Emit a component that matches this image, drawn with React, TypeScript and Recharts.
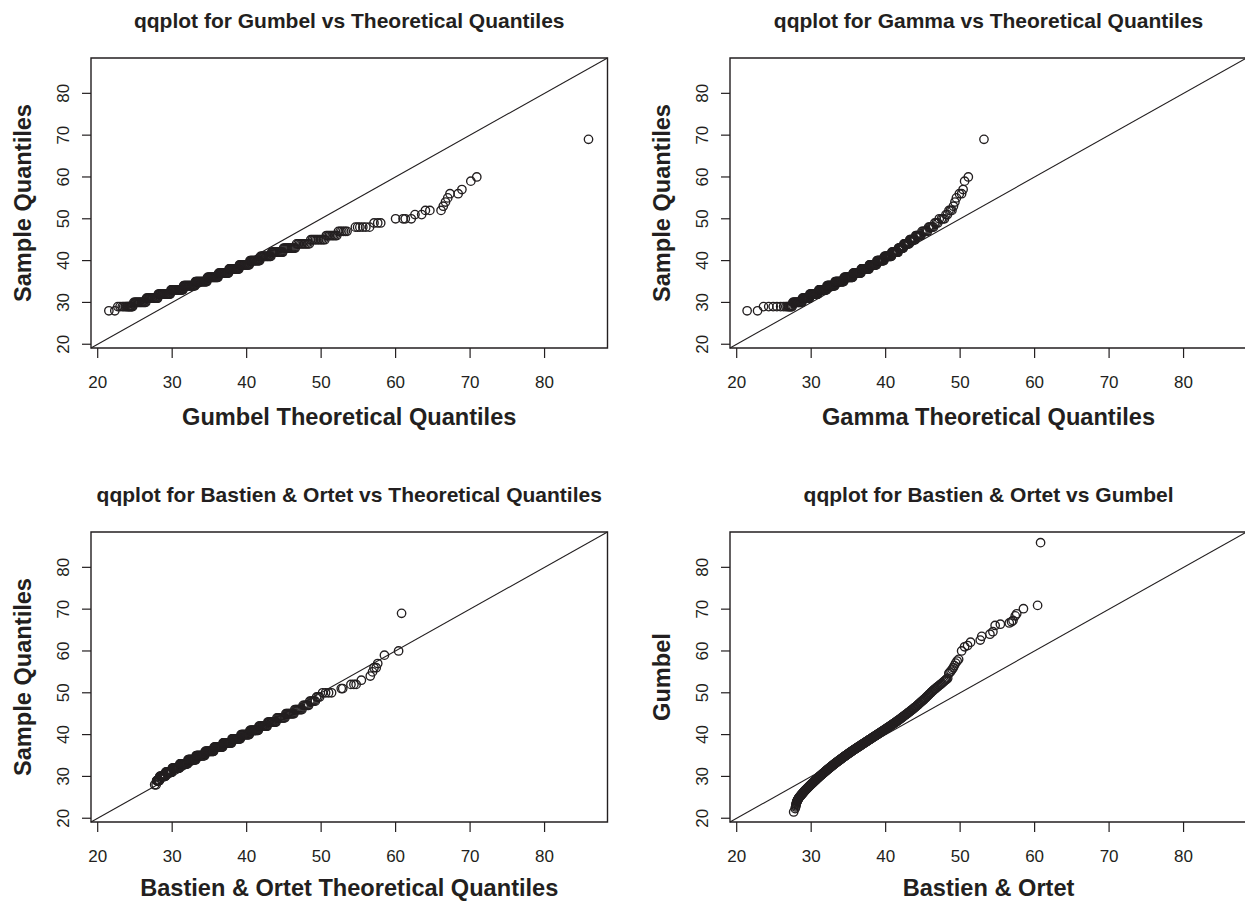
import { ScatterChart, Scatter, XAxis, YAxis, ReferenceLine, ReferenceArea } from "recharts"

// shared axis range and ticks for all four qq panels
const AXIS_MIN = 19.1
const AXIS_MAX = 88.45
const TICKS = [20, 30, 40, 50, 60, 70, 80]

const INK = "#231f20"
const FONT = '"Liberation Sans", Arial, Helvetica, sans-serif'

const BOX_W = 516.5
const BOX_H = 290
const PAD = 60

// sorted sample, stored as value / count pairs
const sampleLevels = [28, 29, 30, 31, 32, 33, 34, 35, 36, 37, 38, 39, 40, 41, 42, 43, 44, 45, 46, 47, 48, 49, 50, 51, 52, 53, 54, 55, 56, 57, 59, 60, 69]
const sampleCounts = [2, 14, 16, 16, 18, 20, 20, 20, 20, 18, 18, 16, 16, 15, 13, 12, 10, 10, 8, 6, 6, 3, 4, 2, 3, 1, 1, 1, 2, 1, 1, 1, 1]

// sorted theoretical quantiles, one row per sample level
const gumbelQ = [
  21.5, 22.3,
  22.7, 23.0, 23.3, 23.5, 23.7, 23.85, 24.0, 24.1, 24.2, 24.3, 24.4, 24.5, 24.6, 24.7,
  24.85, 24.96, 25.07, 25.17, 25.28, 25.38, 25.49, 25.6, 25.7, 25.81, 25.91, 26.02, 26.13, 26.23, 26.34, 26.45,
  26.55, 26.65, 26.75, 26.85, 26.95, 27.05, 27.15, 27.25, 27.35, 27.45, 27.55, 27.65, 27.75, 27.85, 27.95, 28.05,
  28.15, 28.24, 28.34, 28.43, 28.52, 28.62, 28.71, 28.81, 28.9, 28.99, 29.09, 29.18, 29.28, 29.37, 29.47, 29.56, 29.65, 29.75,
  29.84, 29.93, 30.01, 30.1, 30.18, 30.27, 30.35, 30.44, 30.52, 30.61, 30.69, 30.78, 30.86, 30.95, 31.03, 31.12, 31.2, 31.29, 31.37, 31.46,
  31.54, 31.62, 31.7, 31.78, 31.86, 31.94, 32.02, 32.1, 32.18, 32.26, 32.34, 32.42, 32.5, 32.58, 32.66, 32.74, 32.82, 32.9, 32.98, 33.06,
  33.14, 33.22, 33.3, 33.38, 33.46, 33.54, 33.62, 33.7, 33.78, 33.86, 33.94, 34.02, 34.1, 34.18, 34.26, 34.34, 34.42, 34.5, 34.58, 34.66,
  34.74, 34.81, 34.89, 34.96, 35.04, 35.11, 35.19, 35.26, 35.34, 35.41, 35.49, 35.56, 35.64, 35.71, 35.79, 35.86, 35.94, 36.01, 36.09, 36.16,
  36.24, 36.32, 36.4, 36.47, 36.55, 36.63, 36.71, 36.78, 36.86, 36.94, 37.02, 37.09, 37.17, 37.25, 37.33, 37.41, 37.48, 37.56,
  37.64, 37.72, 37.8, 37.87, 37.95, 38.03, 38.11, 38.18, 38.26, 38.34, 38.42, 38.49, 38.57, 38.65, 38.73, 38.81, 38.88, 38.96,
  39.04, 39.13, 39.22, 39.31, 39.39, 39.48, 39.57, 39.66, 39.74, 39.83, 39.92, 40.01, 40.09, 40.18, 40.27, 40.36,
  40.44, 40.53, 40.62, 40.71, 40.79, 40.88, 40.97, 41.06, 41.14, 41.23, 41.32, 41.41, 41.49, 41.58, 41.67, 41.76,
  41.85, 41.95, 42.05, 42.15, 42.25, 42.35, 42.45, 42.55, 42.65, 42.75, 42.85, 42.95, 43.05, 43.15, 43.25,
  43.36, 43.48, 43.61, 43.73, 43.85, 43.98, 44.1, 44.22, 44.35, 44.47, 44.59, 44.72, 44.84,
  44.97, 45.11, 45.25, 45.4, 45.54, 45.68, 45.82, 45.96, 46.1, 46.25, 46.39, 46.53,
  46.7, 46.89, 47.08, 47.27, 47.46, 47.65, 47.84, 48.03, 48.22, 48.41,
  48.61, 48.82, 49.03, 49.24, 49.45, 49.66, 49.87, 50.08, 50.29, 50.5,
  50.7, 50.9, 51.1, 51.3, 51.5, 51.7, 51.9, 52.1,
  52.32, 52.55, 52.78, 53.02, 53.25, 53.48,
  54.6, 54.9, 55.2, 55.6, 56.0, 56.5,
  57.1, 57.6, 58.0,
  60.0, 61.0, 61.3, 62.1,
  62.6, 63.5,
  64.0, 64.6, 66.1,
  66.4, 66.7, 67.0,
  67.3, 68.4,
  68.9, 70.1, 70.9, 85.9,
]

const gammaQ = [
  21.4, 22.8,
  23.6, 24.3, 24.9, 25.4, 25.9, 26.3, 26.6, 26.8, 26.95, 27.05, 27.15, 27.25, 27.35, 27.45,
  27.54, 27.62, 27.7, 27.78, 27.87, 27.95, 28.03, 28.11, 28.19, 28.27, 28.35, 28.43, 28.52, 28.6, 28.68, 28.76,
  28.83, 28.89, 28.96, 29.02, 29.08, 29.14, 29.21, 29.27, 29.33, 29.39, 29.46, 29.52, 29.58, 29.64, 29.71, 29.77,
  29.83, 29.9, 29.96, 30.02, 30.09, 30.15, 30.22, 30.28, 30.34, 30.41, 30.47, 30.53, 30.6, 30.66, 30.73, 30.79, 30.85, 30.92,
  31.03, 31.08, 31.14, 31.19, 31.25, 31.3, 31.36, 31.41, 31.47, 31.52, 31.58, 31.63, 31.69, 31.74, 31.8, 31.85, 31.91, 31.96, 32.02, 32.07,
  32.13, 32.18, 32.24, 32.29, 32.35, 32.4, 32.46, 32.51, 32.57, 32.62, 32.68, 32.73, 32.79, 32.84, 32.9, 32.95, 33.01, 33.06, 33.12, 33.17,
  33.23, 33.29, 33.35, 33.41, 33.47, 33.53, 33.59, 33.65, 33.71, 33.77, 33.83, 33.89, 33.95, 34.01, 34.07, 34.13, 34.19, 34.25, 34.31, 34.37,
  34.43, 34.49, 34.55, 34.61, 34.67, 34.73, 34.79, 34.85, 34.91, 34.97, 35.03, 35.09, 35.15, 35.21, 35.27, 35.33, 35.39, 35.45, 35.51, 35.57,
  35.63, 35.69, 35.75, 35.81, 35.87, 35.94, 36.0, 36.06, 36.12, 36.18, 36.24, 36.3, 36.36, 36.42, 36.49, 36.55, 36.61, 36.67,
  36.73, 36.79, 36.85, 36.91, 36.97, 37.04, 37.1, 37.16, 37.22, 37.28, 37.34, 37.4, 37.46, 37.52, 37.59, 37.65, 37.71, 37.77,
  37.83, 37.89, 37.96, 38.02, 38.08, 38.14, 38.21, 38.27, 38.33, 38.39, 38.46, 38.52, 38.58, 38.64, 38.71, 38.77,
  38.83, 38.89, 38.96, 39.02, 39.08, 39.14, 39.21, 39.27, 39.33, 39.39, 39.46, 39.52, 39.58, 39.64, 39.71, 39.77,
  39.83, 39.9, 39.97, 40.03, 40.1, 40.17, 40.23, 40.3, 40.37, 40.43, 40.5, 40.57, 40.63, 40.7, 40.77,
  40.83, 40.9, 40.97, 41.04, 41.11, 41.18, 41.25, 41.32, 41.39, 41.46, 41.53, 41.6, 41.67,
  41.73, 41.79, 41.85, 41.9, 41.96, 42.02, 42.08, 42.14, 42.2, 42.26, 42.31, 42.37,
  42.44, 42.52, 42.6, 42.68, 42.76, 42.84, 42.92, 43.0, 43.08, 43.16,
  43.24, 43.32, 43.4, 43.48, 43.56, 43.64, 43.72, 43.8, 43.88, 43.96,
  44.05, 44.15, 44.25, 44.35, 44.45, 44.55, 44.65, 44.75,
  44.88, 45.03, 45.18, 45.33, 45.48, 45.63,
  45.77, 45.9, 46.03, 46.17, 46.3, 46.43,
  46.6, 46.8, 47.0,
  47.2, 47.5, 47.7, 47.9,
  48.1, 48.3,
  48.5, 48.7, 48.9,
  49.1, 49.3, 49.5,
  49.9, 50.2,
  50.4, 50.6, 51.1, 53.2,
]

const bastienOrtetQ = [
  27.65, 27.85,
  27.91, 27.94, 27.97, 28.0, 28.03, 28.06, 28.09, 28.11, 28.14, 28.17, 28.2, 28.23, 28.26, 28.29,
  28.33, 28.38, 28.43, 28.48, 28.53, 28.58, 28.63, 28.68, 28.73, 28.78, 28.83, 28.88, 28.93, 28.98, 29.03, 29.08,
  29.13, 29.18, 29.24, 29.3, 29.35, 29.41, 29.46, 29.52, 29.58, 29.63, 29.69, 29.74, 29.8, 29.86, 29.91, 29.97,
  30.03, 30.08, 30.14, 30.19, 30.25, 30.31, 30.36, 30.42, 30.47, 30.53, 30.58, 30.64, 30.69, 30.75, 30.81, 30.86, 30.92, 30.97,
  31.03, 31.08, 31.14, 31.19, 31.25, 31.3, 31.36, 31.41, 31.47, 31.52, 31.58, 31.63, 31.69, 31.74, 31.8, 31.85, 31.91, 31.96, 32.02, 32.07,
  32.13, 32.18, 32.24, 32.29, 32.35, 32.4, 32.46, 32.51, 32.57, 32.62, 32.68, 32.73, 32.79, 32.84, 32.9, 32.95, 33.01, 33.06, 33.12, 33.17,
  33.23, 33.29, 33.35, 33.41, 33.47, 33.53, 33.59, 33.65, 33.71, 33.77, 33.83, 33.89, 33.95, 34.01, 34.07, 34.13, 34.19, 34.25, 34.31, 34.37,
  34.43, 34.49, 34.55, 34.61, 34.67, 34.73, 34.79, 34.85, 34.91, 34.97, 35.03, 35.09, 35.15, 35.21, 35.27, 35.33, 35.39, 35.45, 35.51, 35.57,
  35.63, 35.7, 35.77, 35.83, 35.9, 35.97, 36.03, 36.1, 36.17, 36.23, 36.3, 36.37, 36.43, 36.5, 36.57, 36.63, 36.7, 36.77,
  36.83, 36.9, 36.97, 37.03, 37.1, 37.17, 37.23, 37.3, 37.37, 37.43, 37.5, 37.57, 37.63, 37.7, 37.77, 37.83, 37.9, 37.97,
  38.04, 38.11, 38.19, 38.26, 38.34, 38.41, 38.49, 38.56, 38.64, 38.71, 38.79, 38.86, 38.94, 39.01, 39.09, 39.16,
  39.24, 39.31, 39.39, 39.46, 39.54, 39.61, 39.69, 39.76, 39.84, 39.91, 39.99, 40.06, 40.14, 40.21, 40.29, 40.36,
  40.44, 40.52, 40.6, 40.68, 40.76, 40.84, 40.92, 41.0, 41.08, 41.16, 41.24, 41.32, 41.4, 41.48, 41.56,
  41.65, 41.74, 41.83, 41.92, 42.02, 42.11, 42.2, 42.29, 42.38, 42.48, 42.57, 42.66, 42.75,
  42.85, 42.95, 43.05, 43.15, 43.25, 43.35, 43.45, 43.55, 43.65, 43.75, 43.85, 43.95,
  44.06, 44.18, 44.3, 44.42, 44.54, 44.66, 44.78, 44.9, 45.02, 45.14,
  45.26, 45.38, 45.5, 45.62, 45.74, 45.86, 45.98, 46.1, 46.22, 46.34,
  46.47, 46.61, 46.74, 46.88, 47.02, 47.16, 47.29, 47.43,
  47.58, 47.73, 47.88, 48.03, 48.18, 48.33,
  48.48, 48.63, 48.78, 48.93, 49.08, 49.23,
  49.4, 49.6, 49.8,
  50.2, 50.6, 51.0, 51.4,
  52.7, 52.9,
  54.0, 54.4, 54.7,
  55.4, 56.6, 56.9,
  57.1, 57.4,
  57.6, 58.5, 60.4, 60.8,
]

const sample: number[] = sampleLevels.flatMap((v, i) => Array(sampleCounts[i]).fill(v))

const pairs = (xs: number[], ys: number[]) => xs.map((x, i) => ({ x, y: ys[i] }))

const panels = [
  {
    left: 91, top: 58,
    title: "qqplot for Gumbel vs Theoretical Quantiles",
    xLabel: "Gumbel Theoretical Quantiles",
    yLabel: "Sample Quantiles",
    data: pairs(gumbelQ, sample),
  },
  {
    left: 730.3, top: 58,
    title: "qqplot for Gamma vs Theoretical Quantiles",
    xLabel: "Gamma Theoretical Quantiles",
    yLabel: "Sample Quantiles",
    data: pairs(gammaQ, sample),
  },
  {
    left: 91, top: 532.3,
    title: "qqplot for Bastien & Ortet vs Theoretical Quantiles",
    xLabel: "Bastien & Ortet Theoretical Quantiles",
    yLabel: "Sample Quantiles",
    data: pairs(bastienOrtetQ, sample),
  },
  {
    left: 730.3, top: 532.3,
    title: "qqplot for Bastien & Ortet vs Gumbel",
    xLabel: "Bastien & Ortet",
    yLabel: "Gumbel",
    data: pairs(bastienOrtetQ, gumbelQ),
  },
]

const Ring = (props: any) => (
  <circle cx={props.cx} cy={props.cy} r={4.2} fill="none" stroke={INK} strokeWidth={1.35} />
)

// plot area starts at PAD inside each chart (no left margin, y axis is PAD wide)
const XTick = ({ x, payload }: any) => (
  <text x={x} y={PAD + BOX_H + 34} textAnchor="middle" dominantBaseline="central"
    fontFamily={FONT} fontSize={17} fill={INK}>
    {payload.value}
  </text>
)

// y labels are turned to read upwards, centred 27.5px left of the box
const YTick = ({ y, payload }: any) => (
  <g transform={`translate(${PAD - 27.5}, ${y}) rotate(-90)`}>
    <text x={0} y={0} textAnchor="middle" dominantBaseline="central"
      fontFamily={FONT} fontSize={17} fill={INK}>
      {payload.value}
    </text>
  </g>
)

function QQPanel({ left, top, title, xLabel, yLabel, data }: any) {
  const xLabelY = Math.min(top + BOX_H + 68.7, 887.5)
  return (
    <>
      <div style={{
        position: "absolute", left, top: top - 37.3 - 14, width: BOX_W, height: 28,
        lineHeight: "28px", textAlign: "center", fontFamily: FONT, fontWeight: "bold",
        fontSize: 21, color: INK, whiteSpace: "nowrap",
      }}>{title}</div>

      <div style={{ position: "absolute", left: left - PAD, top: top - PAD }}>
        <ScatterChart width={BOX_W + 2 * PAD} height={BOX_H + 2 * PAD}
          margin={{ top: PAD, right: PAD, bottom: 0, left: 0 }}>
          <XAxis type="number" dataKey="x" domain={[AXIS_MIN, AXIS_MAX]} ticks={TICKS}
            allowDataOverflow height={PAD} axisLine={false} tickSize={10} tickMargin={0}
            tickLine={{ stroke: INK, strokeWidth: 1.2 }} tick={<XTick />} interval={0} />
          <YAxis type="number" dataKey="y" domain={[AXIS_MIN, AXIS_MAX]} ticks={TICKS}
            allowDataOverflow width={PAD} axisLine={false} tickSize={9} tickMargin={0}
            tickLine={{ stroke: INK, strokeWidth: 1.2 }} tick={<YTick />} interval={0} />
          <ReferenceArea x1={AXIS_MIN} x2={AXIS_MAX} y1={AXIS_MIN} y2={AXIS_MAX}
            fill="none" stroke={INK} strokeWidth={1.4} ifOverflow="visible" />
          <ReferenceLine segment={[{ x: AXIS_MIN, y: AXIS_MIN }, { x: AXIS_MAX, y: AXIS_MAX }]}
            stroke={INK} strokeWidth={1.1} ifOverflow="visible" />
          <Scatter data={data} shape={(p: any) => <Ring {...p} />} isAnimationActive={false} />
        </ScatterChart>
      </div>

      <div style={{
        position: "absolute", left, top: xLabelY - 10, width: BOX_W, height: 20,
        lineHeight: "20px", textAlign: "center", fontFamily: FONT, fontWeight: "bold",
        fontSize: 23.6, color: INK, whiteSpace: "nowrap",
      }}>{xLabel}</div>

      <div style={{
        position: "absolute", left: left - 68, top: top + BOX_H / 2,
        transform: "translate(-50%, -50%) rotate(-90deg)", lineHeight: "34px",
        fontFamily: FONT, fontWeight: "bold", fontSize: 23.6, color: INK, whiteSpace: "nowrap",
      }}>{yLabel}</div>
    </>
  )
}

export default function App() {
  return (
    <div style={{ position: "relative", width: 1245, height: 902, overflow: "hidden", background: "#fff" }}>
      <style>{"body { margin: 0; }"}</style>
      {panels.map((p) => (
        <QQPanel key={p.title} {...p} />
      ))}
    </div>
  )
}
